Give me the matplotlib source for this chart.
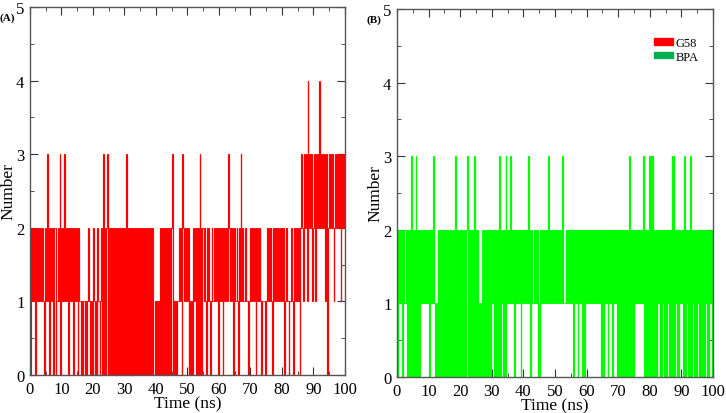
import numpy as np
import matplotlib
matplotlib.use("Agg")
import matplotlib.pyplot as plt
from matplotlib.patches import Patch
from matplotlib.ticker import MultipleLocator

# hydrogen bond count at 0.25 ns steps (4 values per ns)
g58_counts = (
    "2021" "2120" "2121" "2121" "2101" "2131" "2021" "1202" "2011" "2130"
    "2121" "3121" "2021" "2120" "2121" "2021" "1010" "1101" "0121" "1010"
    "1210" "1021" "1012" "0302" "0230" "2020" "2020" "2020" "2020" "2020"
    "2023" "0202" "0202" "2020" "2020" "2020" "2020" "2020" "2020" "2001"
    "0101" "0020" "2020" "2020" "2020" "2301" "0101" "1121" "2032" "1212"
    "1201" "0101" "2120" "2020" "3202" "2121" "0212" "1012" "1121" "2120"
    "2121" "2021" "2121" "3212" "1201" "2112" "1021" "3121" "1121" "1011"
    "2121" "2120" "2121" "2101" "1110" "1121" "2121" "0212" "1212" "2121"
    "2120" "1121" "1011" "2110" "2121" "2120" "2321" "2323" "1423" "2321"
    "2321" "3232" "4232" "3231" "2302" "3232" "3212" "3232" "3231" "2323"
    "2"
)
bpa_counts = (
    "2021" "2120" "2111" "2020" "2030" "2020" "3020" "2021" "2121" "2121"
    "2021" "2131" "1010" "2020" "2020" "2020" "2020" "2020" "2030" "2020"
    "2020" "2020" "2320" "2020" "2030" "2020" "1010" "2020" "2020" "2020"
    "2120" "2020" "2030" "2120" "2031" "2121" "3121" "2021" "2121" "2021"
    "2121" "2131" "2021" "1121" "2120" "1021" "2121" "2121" "3121" "2121"
    "2121" "2121" "2131" "1121" "2121" "2120" "2121" "2021" "2120" "2021"
    "2121" "2121" "2121" "2121" "2120" "2021" "2120" "2121" "2021" "2120"
    "2020" "2020" "2020" "2030" "2020" "2121" "2121" "2121" "3020" "2020"
    "3030" "3020" "2021" "2020" "2120" "2021" "2020" "3030" "2120" "2021"
    "2120" "3021" "2020" "3021" "2020" "2120" "2020" "2021" "2020" "2120"
    "2"
)

g58 = np.array([int(c) for c in g58_counts])
bpa = np.array([int(c) for c in bpa_counts])
time_g58 = np.linspace(0, 100, len(g58))
time_bpa = np.linspace(0, 100, len(bpa))

plt.rcParams['font.family'] = ['Liberation Serif', 'DejaVu Serif']
plt.rcParams['path.simplify'] = False

fig = plt.figure(figsize=(7.26, 4.14), dpi=100)
ax1 = fig.add_axes([0.0413, 0.0918, 0.4339, 0.8889])
ax2 = fig.add_axes([0.5468, 0.0870, 0.4353, 0.8889])

panels = [(ax1, time_g58, g58, '#ff0000', '(A)'),
          (ax2, time_bpa, bpa, '#00ff00', '(B)')]

for ax, t, y, col, tag in panels:
    # step trace, with each jump drawn as its own vertical segment
    ax.step(t, y, where='mid', color=col, lw=0.6)
    mid = (t[:-1] + t[1:]) / 2
    lo = np.minimum(y[:-1], y[1:])
    hi = np.maximum(y[:-1], y[1:])
    ax.vlines(mid, lo, hi, color=col, lw=0.85)
    ax.set_xlim(0, 100)
    ax.set_ylim(0, 5)
    ax.xaxis.set_major_locator(MultipleLocator(10))
    ax.xaxis.set_minor_locator(MultipleLocator(5))
    ax.yaxis.set_major_locator(MultipleLocator(1))
    ax.yaxis.set_minor_locator(MultipleLocator(0.5))
    ax.tick_params(which='both', direction='in', top=True, right=True,
                   color='#333333', labelsize=12, pad=4)
    ax.tick_params(which='major', length=6)
    ax.tick_params(which='minor', length=3)
    for s in ax.spines.values():
        s.set_color('#555555')
        s.set_linewidth(1.0)
    ax.set_xlabel('Time (ns)', fontsize=12.5, labelpad=-1)
    ax.set_ylabel('Number', fontsize=12.5, labelpad=0)
    ax.text(-0.097, 0.973, tag, transform=ax.transAxes, fontsize=8,
            fontweight='bold', ha='left', va='center')

handles = [Patch(color='#ff0000', label='G58'),
           Patch(color='#00b050', label='BPA')]
ax2.legend(handles=handles, loc='upper right', bbox_to_anchor=(0.975, 0.94),
           frameon=False, fontsize=9, handlelength=1.55, handleheight=0.45,
           handletextpad=0.2, labelspacing=0.1, borderpad=0)

fig.savefig('out.png', dpi=100)
